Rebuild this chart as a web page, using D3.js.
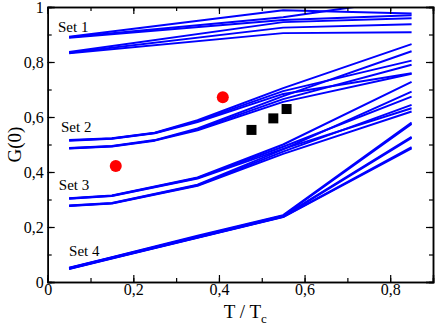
<!DOCTYPE html>
<html>
<head>
<meta charset="utf-8">
<script src="https://cdn.jsdelivr.net/npm/d3@7"></script>
<style>
  body { margin: 0; background: #fff; }
</style>
</head>
<body>
<svg width="436" height="327"></svg>
<script>
// x grids for each set
const xSet1 = [0.05, 0.55, 0.85];
const xSet2 = [0.05, 0.15, 0.25, 0.35, 0.55, 0.85];
const xSet3 = [0.05, 0.15, 0.35, 0.55, 0.85];
const xSet4 = [0.05, 0.15, 0.35, 0.55, 0.85];

const set1 = [
  [0.892, 0.988, 0.976],
  [0.890, 0.963, 1.03],
  [0.888, 0.953, 0.970],
  [0.836, 0.945, 0.959],
  [0.834, 0.925, 0.937],
  [0.832, 0.905, 0.908]
];
const set2 = [
  [0.516, 0.523, 0.543, 0.588, 0.705, 0.865],
  [0.515, 0.522, 0.542, 0.585, 0.694, 0.805],
  [0.514, 0.521, 0.541, 0.582, 0.684, 0.759],
  [0.487, 0.495, 0.516, 0.558, 0.676, 0.839],
  [0.486, 0.494, 0.515, 0.555, 0.665, 0.790],
  [0.485, 0.493, 0.514, 0.552, 0.655, 0.757]
];
const set3 = [
  [0.305, 0.315, 0.380, 0.500, 0.728],
  [0.304, 0.314, 0.378, 0.492, 0.674],
  [0.303, 0.313, 0.376, 0.484, 0.632],
  [0.278, 0.287, 0.354, 0.482, 0.692],
  [0.277, 0.286, 0.352, 0.474, 0.644],
  [0.276, 0.285, 0.350, 0.466, 0.620]
];
const set4 = [
  [0.052, 0.090, 0.168, 0.243, 0.580],
  [0.051, 0.089, 0.166, 0.241, 0.575],
  [0.050, 0.088, 0.164, 0.240, 0.528],
  [0.049, 0.087, 0.163, 0.238, 0.524],
  [0.048, 0.086, 0.162, 0.237, 0.490],
  [0.047, 0.085, 0.161, 0.236, 0.486]
];

const squaresX = [0.476, 0.527, 0.558];
const squaresY = [0.553, 0.595, 0.629];
const circlesX = [0.159, 0.409];
const circlesY = [0.422, 0.672];

const setLabels = ["Set 1", "Set 2", "Set 3", "Set 4"];
const setLabelX = [0.024, 0.031, 0.026, 0.05];
const setLabelY = [0.91, 0.545, 0.335, 0.095];

const xTicks = [0, 0.2, 0.4, 0.6, 0.8];
const yTicks = [0, 0.2, 0.4, 0.6, 0.8, 1];
const xMinor = d3.range(0, 0.91, 0.1);
const yMinor = d3.range(0, 1.01, 0.1);

const serif = "'Liberation Serif', 'Times New Roman', serif";
const margin = {left: 47.7, right: 3, top: 7, bottom: 45};
const width = 436, height = 327;
const fmt = d => d === 0 ? "0" : d === 1 ? "1" : d3.format(".1f")(d).replace(".", ",");

let svg = d3.select("svg");

let x = d3.scaleLinear().domain([0, 0.9]).range([margin.left, width - margin.right]);
let y = d3.scaleLinear().domain([0, 1]).range([height - margin.bottom, margin.top]);

svg.append("clipPath").attr("id", "clip")
  .append("rect")
  .attr("x", x(0)).attr("y", y(1))
  .attr("width", x(0.9) - x(0)).attr("height", y(0) - y(1));

let plot = svg.append("g").attr("clip-path", "url(#clip)");

function drawSet(xs, rows) {
  let line = d3.line().x((d, i) => x(xs[i])).y(d => y(d));
  plot.append("g").selectAll("path")
    .data(rows)
    .enter()
    .append("path")
    .attr("d", line)
    .attr("fill", "none")
    .attr("stroke", "#0000ff")
    .attr("stroke-width", 2)
    .attr("stroke-linejoin", "round");
}
drawSet(xSet1, set1);
drawSet(xSet2, set2);
drawSet(xSet3, set3);
drawSet(xSet4, set4);

plot.selectAll("circle.pt")
  .data(circlesX)
  .enter()
  .append("circle")
  .attr("cx", d => x(d))
  .attr("cy", (d, i) => y(circlesY[i]))
  .attr("r", 6)
  .attr("fill", "#ff0000");

plot.selectAll("rect.sq")
  .data(squaresX)
  .enter()
  .append("rect")
  .attr("x", d => x(d) - 5)
  .attr("y", (d, i) => y(squaresY[i]) - 5)
  .attr("width", 10)
  .attr("height", 10)
  .attr("fill", "#000");

svg.selectAll("text.set")
  .data(setLabels)
  .enter()
  .append("text")
  .attr("x", (d, i) => x(setLabelX[i]))
  .attr("y", (d, i) => y(setLabelY[i]))
  .attr("font-family", serif)
  .attr("font-size", 15)
  .text(d => d);

// axes: ticks pointing inward on all four sides
svg.append("g")
  .attr("transform", `translate(0,${y(0)})`)
  .call(d3.axisBottom(x).tickValues(xTicks).tickSize(-7).tickPadding(2).tickFormat(fmt));
svg.append("g")
  .attr("transform", `translate(0,${y(0)})`)
  .call(d3.axisBottom(x).tickValues(xMinor).tickSize(-4).tickFormat(""));
svg.append("g")
  .attr("transform", `translate(0,${y(1)})`)
  .call(d3.axisTop(x).tickValues(xTicks).tickSize(-7).tickFormat(""));
svg.append("g")
  .attr("transform", `translate(0,${y(1)})`)
  .call(d3.axisTop(x).tickValues(xMinor).tickSize(-4).tickFormat(""));

svg.append("g")
  .attr("transform", `translate(${x(0)},0)`)
  .call(d3.axisLeft(y).tickValues(yTicks).tickSize(-7).tickPadding(4).tickFormat(fmt));
svg.append("g")
  .attr("transform", `translate(${x(0)},0)`)
  .call(d3.axisLeft(y).tickValues(yMinor).tickSize(-4).tickFormat(""));
svg.append("g")
  .attr("transform", `translate(${x(0.9)},0)`)
  .call(d3.axisRight(y).tickValues(yTicks).tickSize(-7).tickFormat(""));
svg.append("g")
  .attr("transform", `translate(${x(0.9)},0)`)
  .call(d3.axisRight(y).tickValues(yMinor).tickSize(-4).tickFormat(""));

svg.selectAll(".tick text").attr("font-family", serif).attr("font-size", 16);
svg.selectAll(".domain").attr("stroke-width", 1.5);
svg.selectAll(".tick line").attr("stroke-width", 1.2);

svg.append("text")
  .attr("transform", `translate(21,${(y(0) + y(1)) / 2}) rotate(-90)`)
  .attr("text-anchor", "middle")
  .attr("font-family", serif)
  .attr("font-size", 19)
  .text("G(0)");

let xl = svg.append("text")
  .attr("x", (x(0) + x(0.9)) / 2 + 5)
  .attr("y", 318)
  .attr("text-anchor", "middle")
  .attr("font-family", serif)
  .attr("font-size", 19);
xl.append("tspan").text("T / T");
xl.append("tspan").attr("font-size", 13).attr("dy", 5).text("c");
</script>
</body>
</html>
